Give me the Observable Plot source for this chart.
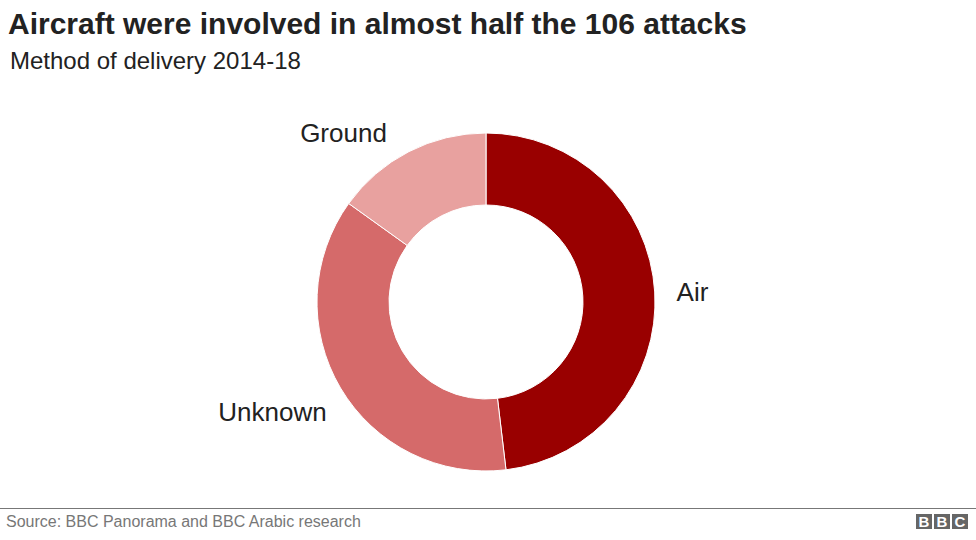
<!DOCTYPE html>
<html><head><meta charset="utf-8">
<script src="https://cdn.jsdelivr.net/npm/d3@7"></script>
<script src="https://cdn.jsdelivr.net/npm/@observablehq/plot@0.6"></script>
<style>
html,body{margin:0;padding:0;background:#fff;font-family:"Liberation Sans",Arial,sans-serif;}
#wrap{position:relative;width:976px;height:540px;overflow:hidden;}
#title{position:absolute;left:8px;top:7px;font-size:30px;font-weight:bold;color:#222;line-height:34px;white-space:nowrap;}
#sub{position:absolute;left:10px;top:47px;font-size:24px;color:#222;line-height:28px;white-space:nowrap;}
#chart{position:absolute;left:0;top:0;}
#rule{position:absolute;left:0;top:508px;width:976px;height:1px;background:#777;}
#source{position:absolute;left:6px;top:513px;font-size:16px;color:#777;line-height:18px;white-space:nowrap;}
#logo{position:absolute;left:916px;top:514px;display:flex;gap:2px;}
#logo span{display:block;width:16px;height:15px;background:#666;color:#fff;font-size:15px;font-weight:bold;line-height:15px;text-align:center;}
</style></head><body>
<div id="wrap">
<div id="chart"></div>
<div id="title">Aircraft were involved in almost half the 106 attacks</div>
<div id="sub">Method of delivery 2014-18</div>
<div id="rule"></div>
<div id="source">Source: BBC Panorama and BBC Arabic research</div>
<div id="logo"><span>B</span><span>B</span><span>C</span></div>
</div>
<script>
const categories = ["Air", "Unknown", "Ground"];
const counts = [51, 39, 16];
const colors = ["#990000", "#d56a6a", "#e8a19f"];
const labelX = [692, 272, 343];
const labelY = [292, 412, 133];

const rows = categories.map((name, i) => ({name, count: counts[i], lx: labelX[i], ly: labelY[i]}));
const pie = d3.pie().sort(null).value(d => d.count)(rows);

function donut(index, scales, values, dims) {
  const g = d3.create("svg:g").attr("transform", `translate(${scales.x(486)},${scales.y(302)})`);
  const arc = d3.arc().innerRadius(97).outerRadius(169);
  g.selectAll("path").data(pie).join("path")
    .attr("d", arc)
    .attr("fill", d => scales.color(d.data.name))
    .attr("stroke", "#fff")
    .attr("stroke-width", 1);
  return g.node();
}

const plot = Plot.plot({
  width: 976, height: 540, margin: 0,
  style: {background: "transparent", fontFamily: "'Liberation Sans',Arial,sans-serif"},
  x: {domain: [0, 976], range: [0, 976], axis: null},
  y: {domain: [0, 540], range: [0, 540], axis: null},
  color: {domain: categories, range: colors},
  marks: [
    donut,
    Plot.text(rows, {x: "lx", y: "ly", text: "name", fontSize: 26, fill: "#222", textAnchor: "middle"})
  ]
});
document.getElementById("chart").appendChild(plot);
</script>
</body></html>
